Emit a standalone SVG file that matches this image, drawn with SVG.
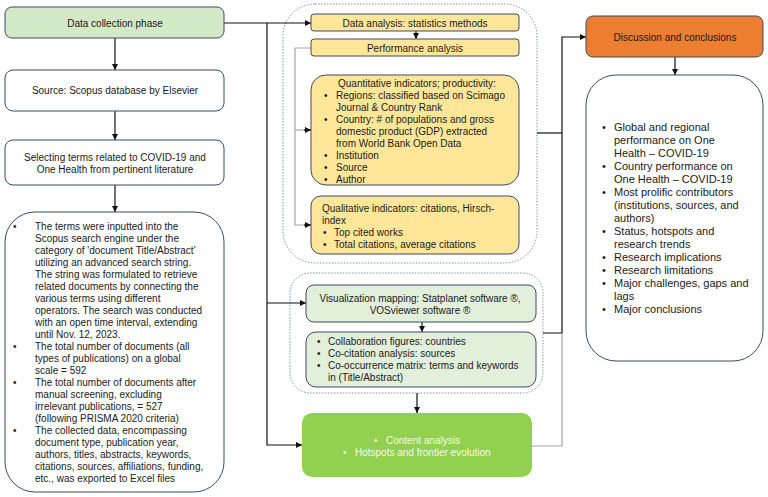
<svg xmlns="http://www.w3.org/2000/svg" width="768" height="497" viewBox="0 0 768 497">
<defs>
<marker id="ah" viewBox="0 0 10 10" refX="10" refY="5" markerWidth="6" markerHeight="6" markerUnits="userSpaceOnUse" orient="auto">
<path d="M0,0 L10,5 L0,10 z" fill="#111"/>
</marker>
</defs>
<style>
text{font-family:"Liberation Sans",Arial,sans-serif;font-size:10px;fill:#1a1a1a}
.c{text-anchor:middle}
.b{stroke:#3b4a6b;stroke-width:1}
.w{fill:#fff}
.y{fill:#ffe699}
.g{fill:#e2efda}
.dot{fill:none;stroke:#8090a8;stroke-width:1;stroke-dasharray:1.5 1.5}
.ln{fill:none;stroke:#111;stroke-width:1.2}
.gl{fill:none;stroke:#a6a6a6;stroke-width:1.2}
.ar{marker-end:url(#ah)}
.big{font-size:11px}
.wt{fill:#f2f9ec}
</style>
<rect width="768" height="497" fill="#fff"/>

<g id="dotted-groups">
<rect class="dot" x="283" y="4" width="254" height="259" rx="32"/>
<rect class="dot" x="290" y="273" width="253" height="120" rx="20"/>
</g>

<g id="connectors">
<path class="ln ar" d="M115,38 V70"/>
<path class="ln ar" d="M115,111 V140"/>
<path class="ln ar" d="M115,185 V212"/>
<path class="ln ar" d="M224,23 H311"/>
<path class="ln ar" d="M267,23 V445 H302"/>
<path class="ln ar" d="M267,303 H306"/>
<path class="ln ar" d="M416,31 V39"/>
<path class="gl" d="M311,48 H295 V225 H305"/>
<path class="gl" d="M295,130 H305"/>
<path class="ln ar" d="M304,130 H311"/>
<path class="ln ar" d="M304,225 H311"/>
<path class="ln ar" d="M422,322 V332"/>
<path class="ln ar" d="M417,393 V413"/>
<path class="ln" d="M537,133 H562"/>
<path class="ln ar" d="M543,333 H562 V37 H586"/>
<path class="gl" d="M532,446 H562 V334"/>
<path class="ln ar" d="M675,57 V75"/>
</g>

<g id="data-collection">
<rect class="b" x="5" y="7" width="219" height="31" rx="7" fill="#d3e8c6"/>
<text class="c" x="115" y="26.5">Data collection phase</text>
</g>

<g id="source">
<rect class="b w" x="5" y="70" width="219" height="41" rx="8"/>
<text class="c" x="115" y="93.5">Source: Scopus database by Elsevier</text>
</g>

<g id="selecting">
<rect class="b w" x="5" y="140" width="219" height="45" rx="8"/>
<text class="c" x="115" y="160.5">Selecting terms related to COVID-19 and</text>
<text class="c" x="115" y="172.5">One Health from pertinent literature</text>
</g>

<g id="search-details">
<rect class="b w" x="5" y="212" width="219" height="280" rx="30"/>
<text x="13" y="230">•</text>
<text x="35" y="230">The terms were inputted into the</text>
<text x="35" y="242">Scopus search engine under the</text>
<text x="35" y="254">category of 'document Title/Abstract'</text>
<text x="35" y="266">utilizing an advanced search string.</text>
<text x="35" y="278">The string was formulated to retrieve</text>
<text x="35" y="290">related documents by connecting the</text>
<text x="35" y="302">various terms using different</text>
<text x="35" y="314">operators. The search was conducted</text>
<text x="35" y="326">with an open time interval, extending</text>
<text x="35" y="338">until Nov. 12, 2023.</text>
<text x="13" y="350">•</text>
<text x="35" y="350">The total number of documents (all</text>
<text x="35" y="362">types of publications) on a global</text>
<text x="35" y="374">scale = 592</text>
<text x="13" y="386">•</text>
<text x="35" y="386">The total number of documents after</text>
<text x="35" y="398">manual screening, excluding</text>
<text x="35" y="410">irrelevant publications, = 527</text>
<text x="35" y="422">(following PRISMA 2020 criteria)</text>
<text x="13" y="434">•</text>
<text x="35" y="434">The collected data, encompassing</text>
<text x="35" y="446">document type, publication year,</text>
<text x="35" y="458">authors, titles, abstracts, keywords,</text>
<text x="35" y="470">citations, sources, affiliations, funding,</text>
<text x="35" y="482">etc., was exported to Excel files</text>
</g>

<g id="data-analysis">
<rect class="b y" x="311" y="14" width="208" height="17" rx="3"/>
<text class="c" x="415" y="26.5">Data analysis: statistics methods</text>
</g>

<g id="performance">
<rect class="b y" x="311" y="39" width="208" height="17" rx="3"/>
<text class="c" x="415" y="51.5">Performance analysis</text>
</g>

<g id="quantitative">
<rect class="b y" x="311" y="75" width="208" height="110" rx="15"/>
<text x="338" y="86.5">Quantitative indicators; productivity:</text>
<text x="324" y="98.5">•</text>
<text x="336" y="98.5">Regions: classified based on Scimago</text>
<text x="336" y="110.5">Journal &amp; Country Rank</text>
<text x="324" y="122.5">•</text>
<text x="336" y="122.5">Country: # of populations and gross</text>
<text x="336" y="134.5">domestic product (GDP) extracted</text>
<text x="336" y="146.5">from World Bank Open Data</text>
<text x="324" y="158.5">•</text>
<text x="336" y="158.5">Institution</text>
<text x="324" y="170.5">•</text>
<text x="336" y="170.5">Source</text>
<text x="324" y="182.5">•</text>
<text x="336" y="182.5">Author</text>
</g>

<g id="qualitative">
<rect class="b y" x="311" y="196" width="208" height="58" rx="10"/>
<text x="322" y="211.5">Qualitative indicators: citations, Hirsch-</text>
<text x="322" y="223.5">index</text>
<text x="323" y="235.5">•</text>
<text x="334" y="235.5">Top cited works</text>
<text x="323" y="247.5">•</text>
<text x="334" y="247.5">Total citations, average citations</text>
</g>

<g id="visualization">
<rect class="b g" x="306" y="285" width="230" height="37" rx="8"/>
<text class="c" x="420" y="302">Visualization mapping: Statplanet software ®,</text>
<text class="c" x="420" y="314">VOSviewer software ®</text>
</g>

<g id="collaboration">
<rect class="b g" x="306" y="332" width="230" height="55" rx="10"/>
<text x="317" y="344.5">•</text>
<text x="328" y="344.5">Collaboration figures: countries</text>
<text x="317" y="356.5">•</text>
<text x="328" y="356.5">Co-citation analysis: sources</text>
<text x="317" y="369">•</text>
<text x="328" y="369">Co-occurrence matrix: terms and keywords</text>
<text x="328" y="381">in (Title/Abstract)</text>
</g>

<g id="content-analysis">
<rect x="302" y="413" width="230" height="64" rx="10" fill="#92d050"/>
<text class="wt" x="374" y="443.5">•</text>
<text class="wt" x="386" y="443.5">Content analysis</text>
<text class="wt" x="343" y="455.5">•</text>
<text class="wt" x="355" y="455.5">Hotspots and frontier evolution</text>
</g>

<g id="discussion">
<rect class="b" x="586" y="16" width="177" height="41" rx="7" fill="#ed7d31"/>
<text class="c" x="675" y="40.5">Discussion and conclusions</text>
</g>

<g id="conclusions">
<rect class="b w" x="586" y="75" width="177" height="286" rx="30"/>
<text class="big" x="602" y="131">•</text>
<text class="big" x="614" y="131">Global and regional</text>
<text class="big" x="614" y="144">performance on One</text>
<text class="big" x="614" y="157">Health – COVID-19</text>
<text class="big" x="602" y="170">•</text>
<text class="big" x="614" y="170">Country performance on</text>
<text class="big" x="614" y="183">One Health – COVID-19</text>
<text class="big" x="602" y="196">•</text>
<text class="big" x="614" y="196">Most prolific contributors</text>
<text class="big" x="614" y="209">(institutions, sources, and</text>
<text class="big" x="614" y="222">authors)</text>
<text class="big" x="602" y="235">•</text>
<text class="big" x="614" y="235">Status, hotspots and</text>
<text class="big" x="614" y="248">research trends</text>
<text class="big" x="602" y="261">•</text>
<text class="big" x="614" y="261">Research implications</text>
<text class="big" x="602" y="274">•</text>
<text class="big" x="614" y="274">Research limitations</text>
<text class="big" x="602" y="287">•</text>
<text class="big" x="614" y="287">Major challenges, gaps and</text>
<text class="big" x="614" y="300">lags</text>
<text class="big" x="602" y="313">•</text>
<text class="big" x="614" y="313">Major conclusions</text>
</g>
</svg>
